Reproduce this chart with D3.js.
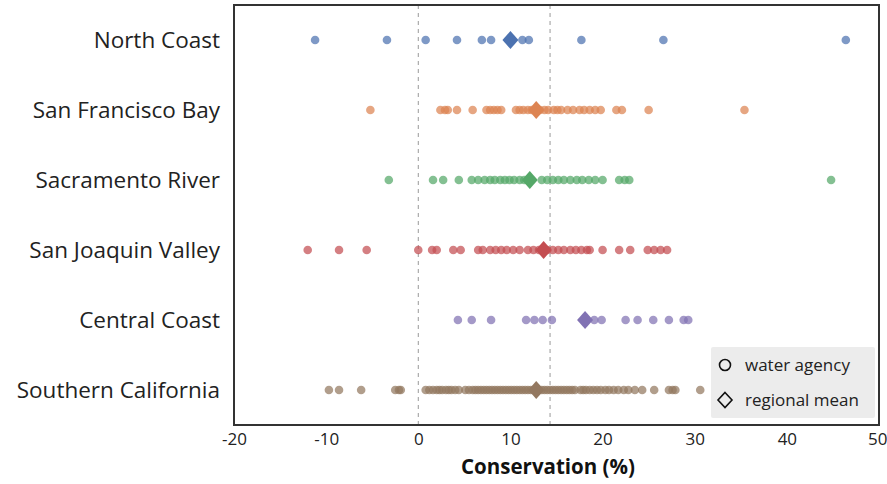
<!DOCTYPE html>
<html>
<head>
<meta charset="utf-8">
<script src="https://cdn.jsdelivr.net/npm/d3@7"></script>
<style>
  html, body { margin: 0; padding: 0; background: #fff; }
  svg { display: block; }
</style>
</head>
<body>
<svg id="chart" width="887" height="484"></svg>
<script>
const categories = ["North Coast", "San Francisco Bay", "Sacramento River", "San Joaquin Valley", "Central Coast", "Southern California"];
const colors = ["#4c72b0", "#dd8452", "#55a868", "#c44e52", "#8172b3", "#937860"];

const northCoast = [-11.2, -3.4, 0.8, 4.2, 6.9, 7.9, 11.3, 12.0, 17.7, 26.6, 46.4];
const sanFranciscoBay = [-5.2, 2.4, 2.9, 3.2, 4.2, 5.9, 7.4, 7.8, 8.2, 8.6, 9.0, 10.6, 11.0, 11.4, 11.9, 12.3, 13.2, 13.7, 14.1, 14.7, 15.1, 15.5, 16.2, 16.8, 17.5, 18.0, 18.6, 19.2, 19.8, 21.5, 22.1, 25.0, 35.4];
const sacramentoRiver = [-3.2, 1.6, 2.7, 4.4, 5.8, 6.5, 7.2, 7.8, 8.3, 8.9, 9.4, 9.9, 10.4, 11.0, 11.5, 13.4, 14.0, 14.6, 15.2, 15.8, 16.5, 17.2, 17.8, 18.5, 19.2, 20.0, 21.8, 22.4, 22.9, 44.8];
const sanJoaquinValley = [-12.0, -8.6, -5.6, 0.0, 1.5, 2.0, 3.8, 4.6, 6.5, 7.0, 7.8, 8.4, 9.0, 9.6, 10.3, 11.0, 11.9, 12.5, 13.1, 14.0, 14.6, 15.2, 15.8, 16.5, 17.1, 17.7, 18.3, 18.6, 20.0, 21.8, 23.0, 24.9, 25.6, 26.3, 27.0];
const centralCoast = [4.3, 5.8, 7.9, 11.7, 12.6, 13.5, 14.5, 19.1, 19.9, 22.5, 23.8, 25.5, 27.2, 28.8, 29.3];
const southernCalifornia = [-9.7, -8.6, -6.2, -2.5, -2.1, -1.9, 0.8, 1.2, 1.6, 2.0, 2.3, 2.6, 3.0, 3.3, 3.6, 4.0, 4.4, 5.1, 5.5, 5.9, 6.2, 6.5, 6.8, 7.1, 7.4, 7.7, 8.0, 8.3, 8.6, 8.9, 9.2, 9.5, 9.8, 10.1, 10.4, 10.7, 11.0, 11.3, 11.6, 11.9, 12.2, 12.5, 12.8, 13.1, 13.4, 13.7, 14.0, 14.3, 14.6, 14.9, 15.2, 15.5, 15.8, 16.1, 16.4, 16.7, 17.0, 17.6, 17.9, 18.2, 18.6, 19.0, 19.4, 19.8, 20.3, 20.7, 21.2, 21.7, 22.3, 22.8, 23.5, 24.3, 25.6, 27.2, 27.6, 27.9, 30.6];
const regionalMeans = [10.0, 12.8, 12.1, 13.6, 18.1, 12.8];
const referenceLines = [0, 14.3];
const xTicks = [-20, -10, 0, 10, 20, 30, 40, 50];
const xDomain = [-20, 50];
const xLabel = "Conservation (%)";
const legendLabels = ["water agency", "regional mean"];

const seriesValues = [northCoast, sanFranciscoBay, sacramentoRiver, sanJoaquinValley, centralCoast, southernCalifornia];

const font = "'Open Sans', 'DejaVu Sans', sans-serif";
const svg = d3.select("#chart");
const plotLeft = 234, plotRight = 879, plotTop = 5, plotBottom = 425;

const x = d3.scaleLinear().domain(xDomain).range([plotLeft, plotRight]);
const y = d3.scalePoint().domain(categories).range([plotTop, plotBottom]).padding(0.5);

// reference dashed lines
svg.selectAll("line.ref").data(referenceLines).join("line")
  .attr("class", "ref")
  .attr("x1", d => x(d)).attr("x2", d => x(d))
  .attr("y1", plotTop).attr("y2", plotBottom)
  .attr("stroke", "#999").attr("stroke-width", 1).attr("stroke-dasharray", "4,4");

// dots
categories.forEach((c, i) => {
  svg.append("g").selectAll("circle").data(seriesValues[i]).join("circle")
    .attr("cx", d => x(d)).attr("cy", y(c)).attr("r", 4.3)
    .attr("fill", colors[i]).attr("fill-opacity", 0.72);
});

// diamonds for means
const diamond = (hw, hh) => `M0,${-hh}L${hw},0L0,${hh}L${-hw},0Z`;
svg.append("g").selectAll("path").data(regionalMeans).join("path")
  .attr("d", diamond(8, 9))
  .attr("transform", (d, i) => `translate(${x(d)},${y(categories[i])})`)
  .attr("fill", (d, i) => colors[i]);

// frame
svg.append("rect").attr("x", plotLeft).attr("y", plotTop).attr("width", plotRight - plotLeft).attr("height", plotBottom - plotTop)
  .attr("fill", "none").attr("stroke", "#333").attr("stroke-width", 2);

// x axis
const xAxis = d3.axisBottom(x).tickValues(xTicks).tickSize(0).tickPadding(8).tickFormat(d => String(d));
const gx = svg.append("g").attr("transform", `translate(0,${plotBottom})`).call(xAxis);
gx.select(".domain").remove();
gx.selectAll("text").attr("font-family", font).attr("font-size", 17).attr("fill", "#222");
gx.selectAll(".tick").filter(d => d === xDomain[1]).select("text")
  .attr("text-anchor", "end").attr("x", 887 - x(xDomain[1]));

svg.append("text").attr("x", 548).attr("y", 474)
  .attr("text-anchor", "middle").attr("font-family", font).attr("font-size", 20.5)
  .attr("font-weight", "bold").attr("fill", "#111").text(xLabel);

// y axis labels
const yAxis = d3.axisLeft(y).tickSize(0).tickPadding(14);
const gy = svg.append("g").attr("transform", `translate(${plotLeft},0)`).call(yAxis);
gy.select(".domain").remove();
gy.selectAll("text").attr("font-family", font).attr("font-size", 22.5).attr("fill", "#222");

// legend
const lg = svg.append("g");
lg.append("rect").attr("x", 711).attr("y", 347).attr("width", 164).attr("height", 71)
  .attr("fill", "#ececec").attr("rx", 2);
lg.append("circle").attr("cx", 725).attr("cy", 365).attr("r", 5.5)
  .attr("fill", "none").attr("stroke", "#111").attr("stroke-width", 1.6);
lg.append("path").attr("d", diamond(7, 7.5)).attr("transform", "translate(725,400)")
  .attr("fill", "none").attr("stroke", "#111").attr("stroke-width", 1.6);
lg.selectAll("text").data(legendLabels).join("text")
  .attr("x", 745).attr("y", (d, i) => 371 + i * 35)
  .attr("font-family", font).attr("font-size", 17).attr("fill", "#222").text(d => d);
</script>
</body>
</html>
